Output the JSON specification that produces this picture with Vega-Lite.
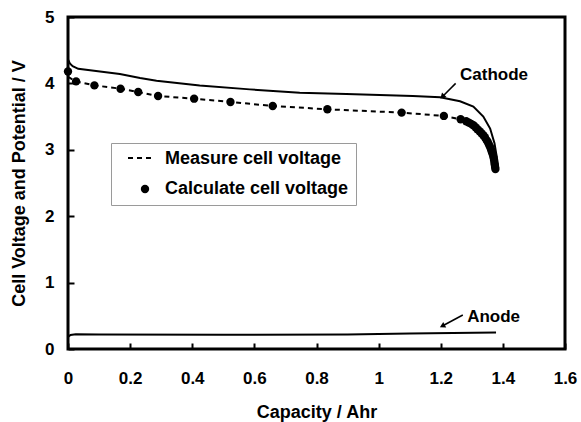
{
  "$schema": "https://vega.github.io/schema/vega-lite/v6.json",
  "width": 497,
  "height": 332,
  "autosize": {"type": "none"},
  "padding": {"left": 68, "top": 17, "right": 16, "bottom": 73},
  "background": "white",
  "config": {
    "view": {"stroke": "black", "strokeWidth": 3},
    "font": "Liberation Sans",
    "axis": {
      "grid": false,
      "domain": false,
      "offset": -6,
      "labelFlush": false,
      "tickColor": "black",
      "tickWidth": 2,
      "tickSize": 6,
      "labelFont": "Liberation Sans",
      "labelFontWeight": "bold",
      "labelFontSize": 17,
      "labelColor": "black",
      "titleFont": "Liberation Sans",
      "titleFontWeight": "bold",
      "titleFontSize": 18,
      "titleColor": "black"
    },
    "legend": {
      "title": null,
      "orient": "none",
      "labelFont": "Liberation Sans",
      "labelFontWeight": "bold",
      "labelFontSize": 18,
      "labelColor": "black",
      "labelLimit": 300
    }
  },
  "datasets": {
    "curves": [
      {"series": "Cathode", "cap": 0.0, "v": 4.36},
      {"series": "Cathode", "cap": 0.006, "v": 4.3},
      {"series": "Cathode", "cap": 0.015, "v": 4.26},
      {"series": "Cathode", "cap": 0.033, "v": 4.22},
      {"series": "Cathode", "cap": 0.103, "v": 4.18},
      {"series": "Cathode", "cap": 0.167, "v": 4.14},
      {"series": "Cathode", "cap": 0.232, "v": 4.08},
      {"series": "Cathode", "cap": 0.285, "v": 4.04},
      {"series": "Cathode", "cap": 0.424, "v": 3.97},
      {"series": "Cathode", "cap": 0.585, "v": 3.91},
      {"series": "Cathode", "cap": 0.746, "v": 3.86},
      {"series": "Cathode", "cap": 0.896, "v": 3.84},
      {"series": "Cathode", "cap": 1.11, "v": 3.81},
      {"series": "Cathode", "cap": 1.198, "v": 3.79},
      {"series": "Cathode", "cap": 1.262, "v": 3.73},
      {"series": "Cathode", "cap": 1.305, "v": 3.65},
      {"series": "Cathode", "cap": 1.337, "v": 3.5},
      {"series": "Cathode", "cap": 1.359, "v": 3.32},
      {"series": "Cathode", "cap": 1.373, "v": 3.1},
      {"series": "Cathode", "cap": 1.38, "v": 2.9},
      {"series": "Cathode", "cap": 1.383, "v": 2.72},
      {"series": "Anode", "cap": 0.0, "v": 0.18},
      {"series": "Anode", "cap": 0.008, "v": 0.21},
      {"series": "Anode", "cap": 0.025, "v": 0.222},
      {"series": "Anode", "cap": 0.1, "v": 0.22},
      {"series": "Anode", "cap": 0.5, "v": 0.215},
      {"series": "Anode", "cap": 0.9, "v": 0.22},
      {"series": "Anode", "cap": 1.1, "v": 0.232},
      {"series": "Anode", "cap": 1.378, "v": 0.25}
    ],
    "measured": [
      {"series": "Measure cell voltage", "cap": 0.0, "v": 4.1},
      {"series": "Measure cell voltage", "cap": 0.025, "v": 4.03},
      {"series": "Measure cell voltage", "cap": 0.085, "v": 3.97},
      {"series": "Measure cell voltage", "cap": 0.17, "v": 3.92},
      {"series": "Measure cell voltage", "cap": 0.226, "v": 3.87},
      {"series": "Measure cell voltage", "cap": 0.29, "v": 3.81},
      {"series": "Measure cell voltage", "cap": 0.406, "v": 3.77},
      {"series": "Measure cell voltage", "cap": 0.523, "v": 3.72},
      {"series": "Measure cell voltage", "cap": 0.66, "v": 3.66},
      {"series": "Measure cell voltage", "cap": 0.835, "v": 3.61},
      {"series": "Measure cell voltage", "cap": 1.074, "v": 3.56},
      {"series": "Measure cell voltage", "cap": 1.21, "v": 3.51},
      {"series": "Measure cell voltage", "cap": 1.264, "v": 3.46},
      {"series": "Measure cell voltage", "cap": 1.29, "v": 3.41},
      {"series": "Measure cell voltage", "cap": 1.309, "v": 3.36},
      {"series": "Measure cell voltage", "cap": 1.325, "v": 3.29},
      {"series": "Measure cell voltage", "cap": 1.338, "v": 3.22},
      {"series": "Measure cell voltage", "cap": 1.348, "v": 3.15},
      {"series": "Measure cell voltage", "cap": 1.357, "v": 3.07},
      {"series": "Measure cell voltage", "cap": 1.364, "v": 3.0},
      {"series": "Measure cell voltage", "cap": 1.37, "v": 2.92},
      {"series": "Measure cell voltage", "cap": 1.373, "v": 2.85},
      {"series": "Measure cell voltage", "cap": 1.375, "v": 2.77},
      {"series": "Measure cell voltage", "cap": 1.376, "v": 2.71}
    ],
    "calculated": [
      {"series": "Calculate cell voltage", "cap": 0.0, "v": 4.18},
      {"series": "Calculate cell voltage", "cap": 0.026, "v": 4.03},
      {"series": "Calculate cell voltage", "cap": 0.085, "v": 3.97},
      {"series": "Calculate cell voltage", "cap": 0.169, "v": 3.92},
      {"series": "Calculate cell voltage", "cap": 0.226, "v": 3.87},
      {"series": "Calculate cell voltage", "cap": 0.29, "v": 3.81},
      {"series": "Calculate cell voltage", "cap": 0.406, "v": 3.77},
      {"series": "Calculate cell voltage", "cap": 0.523, "v": 3.72},
      {"series": "Calculate cell voltage", "cap": 0.659, "v": 3.66},
      {"series": "Calculate cell voltage", "cap": 0.835, "v": 3.61},
      {"series": "Calculate cell voltage", "cap": 1.074, "v": 3.56},
      {"series": "Calculate cell voltage", "cap": 1.21, "v": 3.51},
      {"series": "Calculate cell voltage", "cap": 1.264, "v": 3.46},
      {"series": "Calculate cell voltage", "cap": 1.282, "v": 3.43},
      {"series": "Calculate cell voltage", "cap": 1.29, "v": 3.41},
      {"series": "Calculate cell voltage", "cap": 1.298, "v": 3.39},
      {"series": "Calculate cell voltage", "cap": 1.305, "v": 3.37},
      {"series": "Calculate cell voltage", "cap": 1.312, "v": 3.34},
      {"series": "Calculate cell voltage", "cap": 1.318, "v": 3.31},
      {"series": "Calculate cell voltage", "cap": 1.325, "v": 3.28},
      {"series": "Calculate cell voltage", "cap": 1.331, "v": 3.25},
      {"series": "Calculate cell voltage", "cap": 1.337, "v": 3.22},
      {"series": "Calculate cell voltage", "cap": 1.342, "v": 3.19},
      {"series": "Calculate cell voltage", "cap": 1.347, "v": 3.15},
      {"series": "Calculate cell voltage", "cap": 1.351, "v": 3.12},
      {"series": "Calculate cell voltage", "cap": 1.355, "v": 3.08},
      {"series": "Calculate cell voltage", "cap": 1.359, "v": 3.04},
      {"series": "Calculate cell voltage", "cap": 1.362, "v": 3.0},
      {"series": "Calculate cell voltage", "cap": 1.365, "v": 2.96},
      {"series": "Calculate cell voltage", "cap": 1.368, "v": 2.92},
      {"series": "Calculate cell voltage", "cap": 1.37, "v": 2.88},
      {"series": "Calculate cell voltage", "cap": 1.372, "v": 2.84},
      {"series": "Calculate cell voltage", "cap": 1.373, "v": 2.8},
      {"series": "Calculate cell voltage", "cap": 1.374, "v": 2.77},
      {"series": "Calculate cell voltage", "cap": 1.375, "v": 2.74},
      {"series": "Calculate cell voltage", "cap": 1.376, "v": 2.71}
    ],
    "notes": [
      {"label": "Cathode", "tx": 1.262, "ty": 4.126, "x1": 1.248, "y1": 4.0, "x2": 1.205, "y2": 3.8},
      {"label": "Anode", "tx": 1.285, "ty": 0.486, "x1": 1.271, "y1": 0.512, "x2": 1.205, "y2": 0.346}
    ]
  },
  "layer": [
    {
      "data": {"name": "curves"},
      "mark": {"type": "line", "color": "black", "strokeWidth": 2},
      "encoding": {
        "x": {
          "field": "cap",
          "type": "quantitative",
          "scale": {"domain": [0, 1.6], "nice": false, "zero": false},
          "axis": {
            "title": "Capacity / Ahr",
            "values": [0, 0.2, 0.4, 0.6, 0.8, 1, 1.2, 1.4, 1.6],
            "format": ".1~f",
            "labelPadding": 21,
            "titlePadding": 17
          }
        },
        "y": {
          "field": "v",
          "type": "quantitative",
          "scale": {"domain": [0, 5], "nice": false, "zero": false},
          "axis": {
            "title": "Cell Voltage and Potential / V",
            "values": [0, 1, 2, 3, 4, 5],
            "format": "d",
            "labelPadding": 14,
            "titlePadding": 16
          }
        },
        "detail": {"field": "series", "type": "nominal"}
      }
    },
    {
      "data": {"name": "measured"},
      "mark": {"type": "line", "color": "black", "strokeWidth": 2},
      "encoding": {
        "x": {"field": "cap", "type": "quantitative"},
        "y": {"field": "v", "type": "quantitative"},
        "strokeDash": {
          "field": "series",
          "type": "nominal",
          "scale": {"domain": ["Measure cell voltage"], "range": [[5, 4]]},
          "legend": {
            "legendX": 59,
            "legendY": 127,
            "padding": 0,
            "symbolType": "stroke",
            "symbolSize": 676,
            "symbolStrokeWidth": 2,
            "symbolStrokeColor": "black",
            "labelExpr": "''"
          }
        }
      }
    },
    {
      "data": {"name": "calculated"},
      "mark": {"type": "point", "filled": true, "opacity": 1, "size": 70},
      "encoding": {
        "x": {"field": "cap", "type": "quantitative"},
        "y": {"field": "v", "type": "quantitative"},
        "color": {
          "field": "series",
          "type": "nominal",
          "scale": {"domain": ["Measure cell voltage", "Calculate cell voltage"], "range": ["transparent", "black"]},
          "legend": {
            "legendX": 43,
            "legendY": 126,
            "padding": 7,
            "strokeColor": "#9a9a9a",
            "symbolType": "circle",
            "symbolSize": 70,
            "symbolOffset": 18,
            "labelOffset": 11,
            "rowPadding": 12
          }
        }
      }
    },
    {
      "data": {"name": "notes"},
      "mark": {"type": "rule", "color": "black", "strokeWidth": 1.5},
      "encoding": {
        "x": {"field": "x1", "type": "quantitative"},
        "y": {"field": "y1", "type": "quantitative"},
        "x2": {"field": "x2"},
        "y2": {"field": "y2"}
      }
    },
    {
      "data": {"name": "notes"},
      "transform": [{"filter": "datum.label === 'Cathode'"}],
      "mark": {"type": "point", "shape": "triangle-up", "filled": true, "color": "black", "opacity": 1, "size": 40, "angle": 225},
      "encoding": {
        "x": {"field": "x2", "type": "quantitative"},
        "y": {"field": "y2", "type": "quantitative"}
      }
    },
    {
      "data": {"name": "notes"},
      "transform": [{"filter": "datum.label === 'Anode'"}],
      "mark": {"type": "point", "shape": "triangle-up", "filled": true, "color": "black", "opacity": 1, "size": 40, "angle": 242},
      "encoding": {
        "x": {"field": "x2", "type": "quantitative"},
        "y": {"field": "y2", "type": "quantitative"}
      }
    },
    {
      "data": {"name": "notes"},
      "mark": {"type": "text", "align": "left", "baseline": "middle", "font": "Liberation Sans", "fontWeight": "bold", "fontSize": 17, "color": "black"},
      "encoding": {
        "x": {"field": "tx", "type": "quantitative"},
        "y": {"field": "ty", "type": "quantitative"},
        "text": {"field": "label", "type": "nominal"}
      }
    }
  ]
}
